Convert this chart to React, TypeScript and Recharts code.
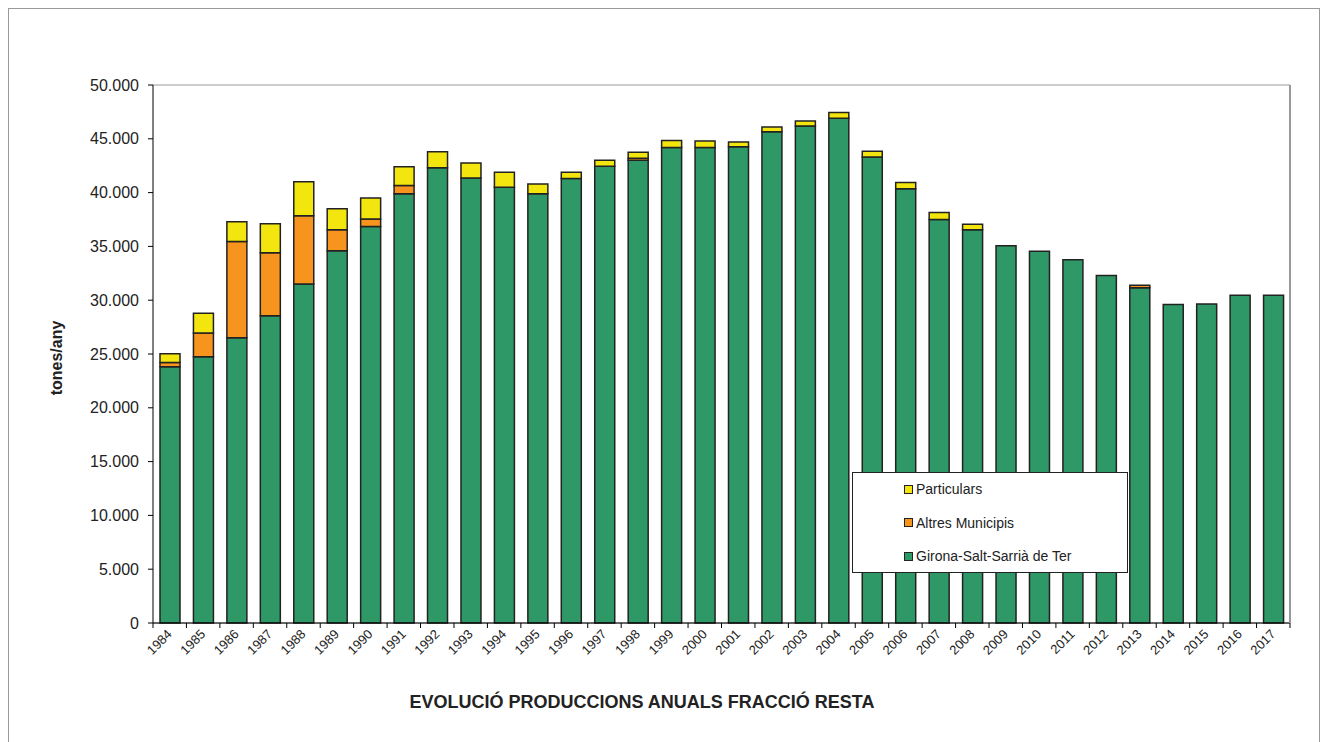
import { BarChart, Bar, XAxis, YAxis, CartesianGrid } from 'recharts';

const years = [
  '1984', '1985', '1986', '1987', '1988', '1989', '1990', '1991', '1992', '1993', '1994', '1995',
  '1996', '1997', '1998', '1999', '2000', '2001', '2002', '2003', '2004', '2005', '2006', '2007',
  '2008', '2009', '2010', '2011', '2012', '2013', '2014', '2015', '2016', '2017',
];

const girona = [
  23820, 24750, 26500, 28550, 31500, 34600, 36850, 39900, 42300, 41350, 40500, 39900,
  41300, 42450, 43000, 44200, 44200, 44250, 45650, 46200, 46900, 43300, 40350, 37500,
  36550, 35050, 34550, 33750, 32300, 31150, 29600, 29650, 30450, 30450,
];

const altres = [
  400, 2200, 8950, 5850, 6350, 1950, 700, 750, 0, 0, 0, 0,
  0, 0, 200, 0, 0, 0, 0, 0, 0, 0, 0, 0,
  0, 0, 0, 0, 0, 250, 0, 0, 0, 0,
];

const particulars = [
  800, 1830, 1850, 2700, 3150, 1950, 1950, 1750, 1500, 1400, 1400, 900,
  600, 550, 550, 650, 600, 450, 450, 450, 550, 550, 600, 650,
  500, 0, 0, 0, 0, 0, 0, 0, 0, 0,
];

const yTicks = [0, 5000, 10000, 15000, 20000, 25000, 30000, 35000, 40000, 45000, 50000];

const series = [
  { key: 'girona', name: 'Girona-Salt-Sarrià de Ter', color: '#2e9966' },
  { key: 'altres', name: 'Altres Municipis', color: '#f7941d' },
  { key: 'particulars', name: 'Particulars', color: '#f2e60e' },
];

const data = years.map((year, i) => ({
  year,
  girona: girona[i],
  altres: altres[i] || null,
  particulars: particulars[i] || null,
}));

const FONT = '"Liberation Sans", Arial, sans-serif';
const STEP = 1137 / years.length;

const fmt = (v: number) => (v === 0 ? '0' : v.toLocaleString('de-DE'));

const XTick = (props: any) => {
  const { x, y, payload, index } = props;
  return (
    <g>
      <line x1={x - STEP / 2} x2={x - STEP / 2} y1={y} y2={y + 5} stroke="#000" />
      {index === years.length - 1 && (
        <line x1={x + STEP / 2} x2={x + STEP / 2} y1={y} y2={y + 5} stroke="#000" />
      )}
      <text
        transform={`translate(${x + 3},${y + 12}) rotate(-45)`}
        textAnchor="end"
        fontSize={13}
        fontFamily={FONT}
        fill="#222"
      >
        {payload.value}
      </text>
    </g>
  );
};

export default function App() {
  return (
    <div
      style={{
        position: 'relative',
        width: 1310,
        height: 738,
        border: '1px solid #999',
        fontFamily: FONT,
        background: '#fff',
      }}
    >
      <BarChart
        width={1310}
        height={738}
        data={data}
        margin={{ top: 76, right: 28, bottom: 94, left: 0 }}
        barSize={20}
      >
        <CartesianGrid vertical={false} stroke="#999" strokeWidth={1} />
        <XAxis
          dataKey="year"
          tick={<XTick />}
          tickLine={false}
          tickSize={0}
          tickMargin={0}
          interval={0}
          height={30}
          axisLine={{ stroke: '#000' }}
        />
        <YAxis
          yAxisId="left"
          domain={[0, 50000]}
          ticks={yTicks}
          tickFormatter={fmt}
          width={144}
          tickSize={5}
          tickMargin={9}
          axisLine={{ stroke: '#000' }}
          tickLine={{ stroke: '#000' }}
          tick={{ fontSize: 16, fill: '#222', fontFamily: FONT }}
          interval={0}
        />
        <YAxis
          yAxisId="right"
          orientation="right"
          domain={[0, 50000]}
          width={1}
          tick={false}
          tickLine={false}
          axisLine={{ stroke: '#999', strokeWidth: 2 }}
        />
        {series.map((s) => (
          <Bar
            key={s.key}
            yAxisId="left"
            dataKey={s.key}
            name={s.name}
            stackId="a"
            fill={s.color}
            stroke="#222"
            strokeWidth={1.5}
            isAnimationActive={false}
          />
        ))}
      </BarChart>

      <div
        style={{
          position: 'absolute',
          left: 48,
          top: 349,
          transform: 'translate(-50%, -50%) rotate(-90deg)',
          fontSize: 16,
          fontWeight: 'bold',
          color: '#222',
          whiteSpace: 'nowrap',
        }}
      >
        tones/any
      </div>

      <div
        style={{
          position: 'absolute',
          left: 0,
          width: 1266,
          top: 683,
          textAlign: 'center',
          fontSize: 18,
          fontWeight: 'bold',
          color: '#222',
        }}
      >
        EVOLUCIÓ PRODUCCIONS ANUALS FRACCIÓ RESTA
      </div>

      <div
        style={{
          position: 'absolute',
          left: 843,
          top: 463,
          width: 274,
          height: 99,
          border: '1px solid #222',
          background: '#fff',
        }}
      >
        {[...series].reverse().map((s, i) => (
          <div
            key={s.key}
            style={{
              position: 'absolute',
              left: 51,
              top: 8 + i * 33.5,
              display: 'flex',
              alignItems: 'center',
              fontSize: 14,
              color: '#222',
              whiteSpace: 'nowrap',
            }}
          >
            <span
              style={{
                display: 'inline-block',
                width: 7,
                height: 7,
                background: s.color,
                border: '1px solid #222',
                marginRight: 3,
              }}
            />
            {s.name}
          </div>
        ))}
      </div>
    </div>
  );
}
